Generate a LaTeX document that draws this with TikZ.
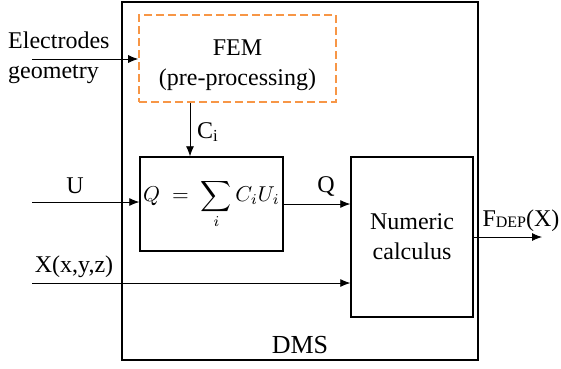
\documentclass[tikz,border=0pt]{standalone}
\usepackage{amsmath}
\usepackage{graphicx}
\usepackage{fontspec}
\setmainfont{Liberation Serif}
\usepackage{xcolor}
\usetikzlibrary{calc,arrows.meta}
\definecolor{femorange}{RGB}{247,150,70}
\newcommand{\txt}{\fontsize{24}{30}\selectfont}
\begin{document}
\begin{tikzpicture}[x=1pt,y=-1pt,>={Latex[length=10pt,width=8pt]},
  block/.style={draw,line width=1.4pt,inner sep=0pt,align=center,font=\txt},
  signal/.style={->,line width=0.8pt},
  lbl/.style={inner sep=0pt,font=\txt}]
\useasboundingbox (0,0) rectangle (561,368);

% DMS frame
\node[draw,line width=1.8pt,minimum width=356pt,minimum height=358pt] (dms) at (300,181) {};
\node[lbl,font=\fontsize{26}{30}\selectfont] (dmslbl) at (300,345) {DMS};

% FEM (pre-processing)
\node[block,draw=femorange,dash pattern=on 8pt off 4pt,line width=1.6pt,
  minimum width=197pt,minimum height=87pt] (fem) at (237.5,58.5)
  {\rule{0pt}{29pt}FEM\\(pre-processing)};

% Sum block
\node[block,minimum width=143pt,minimum height=94pt] (sum) at (211.5,204)
  {\fontsize{10}{12}\selectfont\scalebox{2.15}{$\displaystyle Q\;=\;\sum_i C_iU_i$}};

% Numeric calculus
\node[block,minimum width=122pt,minimum height=160pt] (num) at (412,237) {Numeric\\calculus};

% Inputs
\coordinate (egin) at (32,59);
\coordinate (uin) at (32,202);
\coordinate (xin) at (32,283);
\coordinate (cix) at (190,0);
\coordinate (fout) at (542,237);

\node[lbl,anchor=west,align=left] (eglbl) at (8,58) {Electrodes\\geometry};
\draw[signal] (egin) -- (fem.west |- egin);

\draw[signal] (fem.south -| cix) -- (sum.north -| cix);
\node[lbl,anchor=west] (cilbl) at (197,132) {C\textsubscript{i}};

\draw[signal] (uin) -- (sum.west |- uin);
\node[lbl] (ulbl) at (75,186) {U};

\draw[signal] (sum.east |- 0,204) -- (num.west |- 0,204);
\node[lbl] (qlbl) at (326,186) {Q};

\draw[signal] (xin) -- (num.west |- xin);
\node[lbl] (xlbl) at (74,267) {X(x,y,z)};

% Output
\draw[signal] (num.east |- fout) -- (fout);
\node[lbl] (flbl) at (521,221) {F\raisebox{-0.05em}{\fontsize{16}{18}\selectfont DEP}(X)};
\end{tikzpicture}
\end{document}
